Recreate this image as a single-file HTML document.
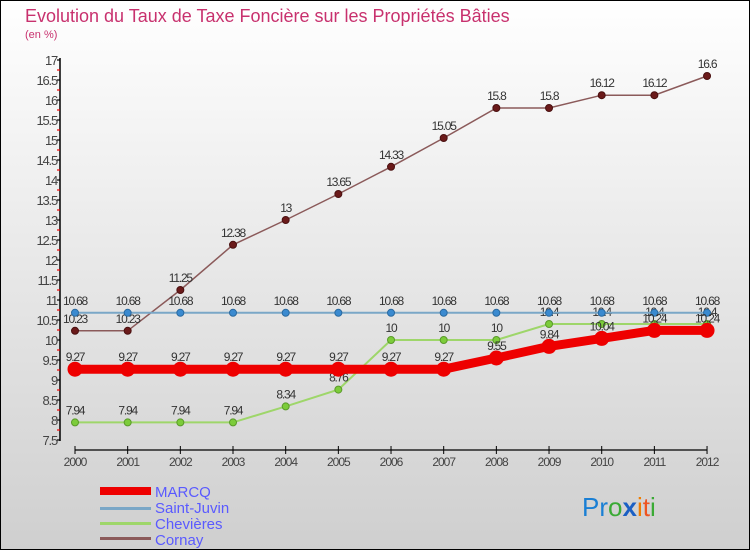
<!DOCTYPE html>
<html><head><meta charset="utf-8"><style>
body{margin:0}
#c{width:750px;height:550px;position:relative;overflow:hidden;font-family:"Liberation Sans",sans-serif}
</style></head><body>
<div id="c">
<svg id="s" width="750" height="550" xmlns="http://www.w3.org/2000/svg">
<defs><linearGradient id="bg" x1="0" y1="0" x2="0" y2="1"><stop offset="0" stop-color="#ffffff"/><stop offset="1" stop-color="#cfcfcf"/></linearGradient></defs>
<rect x="0.5" y="0.5" width="749" height="549" fill="url(#bg)" stroke="#000"/>
<text x="25" y="22" font-size="18" fill="#c8316e">Evolution du Taux de Taxe Foncière sur les Propriétés Bâties</text>
<text x="25" y="38" font-size="11" fill="#c8316e">(en %)</text>
<g id="axes"></g><g id="series"></g>
<g>
<rect x="100" y="487" width="51" height="8" fill="#e00"/>
<text x="155" y="497" font-size="15" fill="#5a5aff">MARCQ</text>
<rect x="100" y="507" width="51" height="3" fill="#7aa7c7"/>
<text x="155" y="513" font-size="15" fill="#5a5aff">Saint-Juvin</text>
<rect x="100" y="522" width="51" height="3" fill="#9ed66a"/>
<text x="155" y="529" font-size="15" fill="#5a5aff">Chevières</text>
<rect x="100" y="537" width="51" height="3" fill="#8b5a5a"/>
<text x="155" y="545" font-size="15" fill="#5a5aff">Cornay</text>
</g>
<text x="582" y="516" font-size="26"><tspan fill="#1a7fd4">Pr</tspan><tspan fill="#3aaa35">o</tspan><tspan fill="#1a5fc4" font-weight="bold">x</tspan><tspan fill="#f07d00">i</tspan><tspan fill="#e52">t</tspan><tspan fill="#3aaa35">i</tspan></text>
</svg></div>
<script>
const years=[2000,2001,2002,2003,2004,2005,2006,2007,2008,2009,2010,2011,2012];
const marcq=[9.27,9.27,9.27,9.27,9.27,9.27,9.27,9.27,9.55,9.84,10.04,10.24,10.24];
const saintJuvin=[10.68,10.68,10.68,10.68,10.68,10.68,10.68,10.68,10.68,10.68,10.68,10.68,10.68];
const chevieres=[7.94,7.94,7.94,7.94,8.34,8.76,10,10,10,10.4,10.4,10.4,10.4];
const cornay=[10.23,10.23,11.25,12.38,13,13.65,14.33,15.05,15.8,15.8,16.12,16.12,16.6];
const yTicks=[7.5,8,8.5,9,9.5,10,10.5,11,11.5,12,12.5,13,13.5,14,14.5,15,15.5,16,16.5,17];
const NS="http://www.w3.org/2000/svg";
const X=i=>75+i*52.67, Y=v=>440-(v-7.5)*40;
function mk(t,a,p){const e=document.createElementNS(NS,t);for(const k in a)e.setAttribute(k,a[k]);p.appendChild(e);return e;}
const ax=document.getElementById('axes'), sg=document.getElementById('series');
let e=mk('line',{x1:60,y1:58,x2:60,y2:441,stroke:'#000','stroke-width':1.5},ax);

for(let v=7.5;v<=17.001;v+=0.25){const y=Y(v);mk('line',{x1:57,x2:60,y1:y,y2:y,stroke:(Math.abs(v*2-Math.round(v*2))<0.01)?'#000':'#e00','stroke-width':1.2},ax);}
yTicks.forEach(v=>{const t=mk('text',{x:57,y:Y(v)+5,'font-size':13,fill:'#444','text-anchor':'end','letter-spacing':'-1.2'},ax);t.textContent=String(v);
});
e=mk('line',{x1:75,y1:450,x2:707,y2:450,stroke:'#000','stroke-width':1.2},ax);

years.forEach((yr,i)=>{mk('line',{x1:X(i),x2:X(i),y1:446,y2:454,stroke:'#000'},ax);
const t=mk('text',{x:X(i),y:466,'font-size':12,fill:'#444','text-anchor':'middle','letter-spacing':'-1'},ax);t.textContent=yr;
});
function series(d,name,color,w,r,dot,stroke){
const g=mk('g',{},sg);
const p=mk('polyline',{points:d.map((v,i)=>X(i)+','+Y(v)).join(' '),fill:'none',stroke:color,'stroke-width':w},g);

d.forEach((v,i)=>{const c=mk('circle',{cx:X(i),cy:Y(v),r:r,fill:dot,stroke:stroke,'stroke-width':1},g);

const t=mk('text',{x:X(i),y:Y(v)-8,'font-size':12,fill:'#333','text-anchor':'middle','letter-spacing':'-1.2'},g);t.textContent=String(v);
});}
series(chevieres,'chevieres','#9ed66a',2,3.5,'#7ccc3a','#5a9a2a');
series(cornay,'cornay','#8b5a5a',1.5,3.5,'#6b1a1a','#4a1010');
series(saintJuvin,'saint-juvin','#7aa7c7',2,3.5,'#3a8ad0','#2a6aa0');
series(marcq,'marcq','#ee0000',9,7,'#ee0000','#ee0000');
</script>
</body></html>
